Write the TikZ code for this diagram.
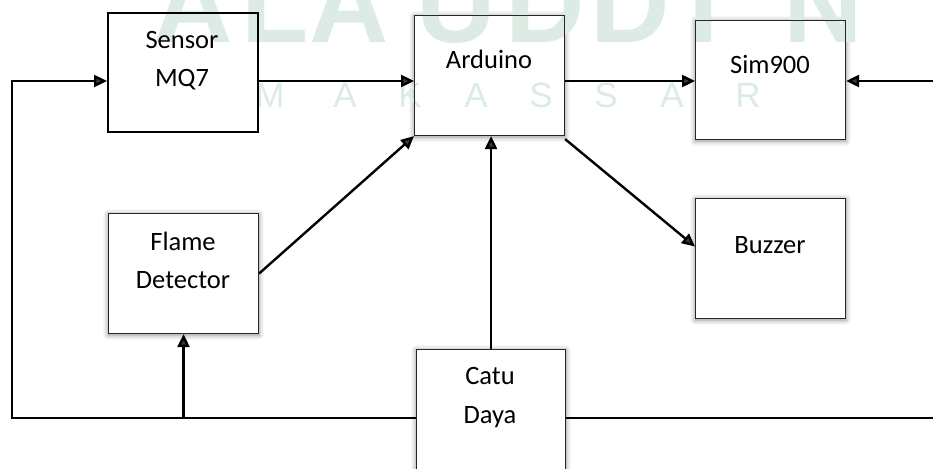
\documentclass[tikz,border=0pt]{standalone}
\usepackage{fontspec}
\setmainfont{Carlito}
\newfontfamily\wmfont{Liberation Sans}
\usetikzlibrary{arrows.meta,shadows.blur}
\definecolor{wmgreen}{RGB}{220,236,229}
\pgfdeclarelayer{paper}
\pgfdeclarelayer{mark}
\pgfsetlayers{paper,mark,main}

\begin{document}
\begin{tikzpicture}[x=1pt,y=-1pt,
  box/.style={draw=black!85, line width=1.1pt, minimum width=150pt,
    minimum height=120pt, inner sep=0pt, anchor=north west},
  heavybox/.style={box, draw=black, line width=2.4pt},
  lbl/.style={font=\fontsize{26.5}{39}\selectfont, anchor=base, inner sep=0pt},
  wire/.style={line width=2.4pt},
  arr/.style={wire, -{Triangle[length=13pt,width=12pt]}},
  bigmark/.style={text=wmgreen, font=\wmfont\bfseries\fontsize{110}{110}\selectfont,
    anchor=base, inner sep=0pt},
  smallmark/.style={text=wmgreen, font=\wmfont\fontsize{35}{35}\selectfont,
    anchor=base, inner sep=0pt},
  paperfill/.style={fill=white, blur shadow={shadow xshift=0pt, shadow yshift=-1pt,
    shadow blur radius=5pt, shadow opacity=45}}
]
\useasboundingbox (0,0) rectangle (933,468);

% blocks
\node[heavybox, minimum height=119pt] (mq) at (107,12) {};
\node[box] (ard) at (414,15) {};
\node[box, minimum height=119pt] (sim) at (695,20) {};
\node[box] (fl) at (108,213) {};
\node[box] (buz) at (695,198) {};
\node[box, minimum width=149pt] (cd) at (416,349) {};

% white paper and soft shadow under the blocks
\begin{pgfonlayer}{paper}
  \foreach \b in {ard,sim,fl,buz,cd}
    \path[paperfill] (\b.north west) rectangle (\b.south east);
\end{pgfonlayer}

% institution watermark
\begin{pgfonlayer}{mark}
  \node[bigmark] (w1) at (193,43) {A};
  \node[bigmark] (w2) at (275,43) {L};
  \node[bigmark] (w3) at (349,43) {A};
  \node[bigmark] (w4) at (456,43) {U};
  \node[bigmark] (w5) at (545,43) {D};
  \node[bigmark] (w6) at (630,43) {D};
  \node[bigmark] (w7) at (704,43) {I};
  \node[bigmark] (w8) at (823,43) {N};
  \node[smallmark] (m1) at (270,108) {M};
  \node[smallmark] (m2) at (345,108) {A};
  \node[smallmark] (m3) at (410,108) {K};
  \node[smallmark] (m4) at (476,108) {A};
  \node[smallmark] (m5) at (541,108) {S};
  \node[smallmark] (m6) at (606,108) {S};
  \node[smallmark] (m7) at (672,108) {A};
  \node[smallmark] (m8) at (748,108) {R};
\end{pgfonlayer}

% block labels
\node[lbl] (mqa) at (182,49) {Sensor};
\node[lbl] (mqb) at (182,87) {MQ7};
\node[lbl] (arda) at (489,69) {Arduino};
\node[lbl] (sima) at (770,74) {Sim900};
\node[lbl] (fla) at (183,250) {Flame};
\node[lbl] (flb) at (183,288) {Detector};
\node[lbl] (buza) at (770,253) {Buzzer};
\node[lbl] (cda) at (490,384) {Catu};
\node[lbl] (cdb) at (490,423) {Daya};

% reference lines for the signal row, the supply bus and the side rails
\coordinate (row) at (0,81);
\coordinate (bus) at (0,418);
\coordinate (lft) at (12,0);
\coordinate (rgt) at (933,0);

% supply distribution
\draw[arr] (cd.west |- bus) -| (lft |- row) -- (mq.west |- row);
\draw[arr] (fl.south |- bus) -- (fl.south);
\draw[wire] (cd.east |- bus) -- (rgt |- bus);
\draw[arr] (rgt |- row) -- (sim.east |- row);
\draw[arr] (cd.north) -- (cd.north |- ard.south);

% signal paths
\draw[arr] (mq.east |- row) -- (ard.west |- row);
\draw[arr] (ard.east |- row) -- (sim.west |- row);
\draw[arr] (fl.east) -- (ard.south west);
\draw[arr] ([yshift=-3pt]ard.south east) -- ([yshift=12pt]buz.west);
\end{tikzpicture}
\end{document}
